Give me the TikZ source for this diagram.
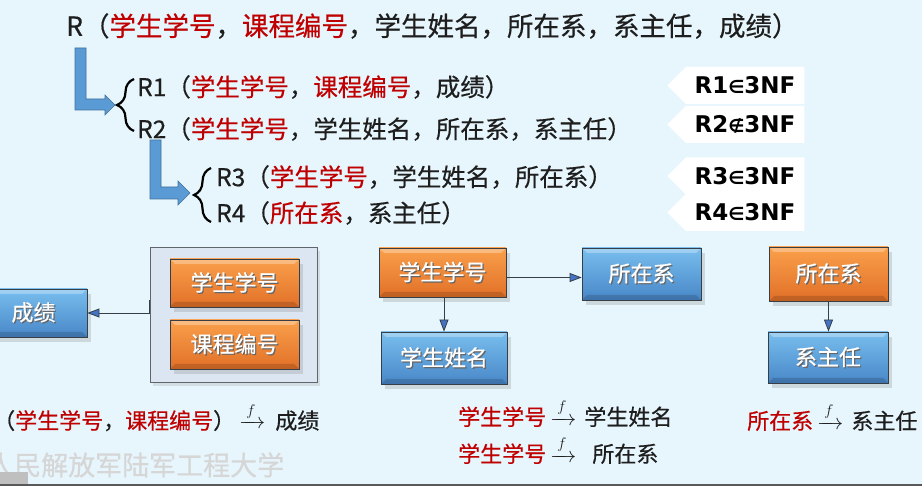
\RequirePackage{fix-cm}
\documentclass[tikz,border=0pt]{standalone}
\usepackage{amsmath}
\usepackage{fontspec}
\setmainfont{Noto Sans CJK SC}[FakeBold=0.5]
\newfontfamily\nffont{DejaVu Sans}
\usepackage{xcolor}
\usetikzlibrary{arrows.meta,positioning,calc,decorations.pathreplacing,shapes.symbols,shadows}

\definecolor{bgblue}{RGB}{231,246,253}
\definecolor{keyred}{RGB}{192,0,0}
\definecolor{textdark}{RGB}{30,30,30}
\definecolor{blueTop}{RGB}{120,190,238}
\definecolor{blueBot}{RGB}{72,135,200}
\definecolor{orangeTop}{RGB}{250,160,75}
\definecolor{orangeBot}{RGB}{225,112,40}
\definecolor{framegray}{RGB}{55,62,70}
\definecolor{keyboxfill}{RGB}{220,230,242}
\definecolor{tipblue}{RGB}{68,114,196}
\definecolor{bentblue}{RGB}{91,155,213}
\definecolor{bentedge}{RGB}{65,113,156}
\definecolor{wmgray}{RGB}{214,214,214}

\newcommand{\fsz}[1]{\fontsize{#1}{#1}\selectfont}
\newcommand{\kr}[1]{\textcolor{keyred}{#1}}
\newcommand{\wtext}[1]{\rlap{\hspace{1.2pt}\raisebox{-1.2pt}{\textcolor{black!60}{#1}}}\textcolor{white}{#1}}
\newcommand{\fto}{\ensuremath{\xrightarrow{\,f\,}}}

\begin{document}
\begin{tikzpicture}[x=1pt,y=-1pt,
  relation/.style={anchor=west,inner sep=0pt,text=textdark},
  nf/.style={signal,signal to=west,signal pointer angle=90,fill=white,
    minimum width=137pt,minimum height=37pt,inner sep=0pt,
    font=\nffont\bfseries\fsz{23},text=black},
  block/.style={draw=framegray,line width=0.8pt,inner sep=0pt,font=\fsz{22},
    drop shadow={shadow xshift=4pt,shadow yshift=-5pt,opacity=0.25},
    path picture={
      \fill[white,opacity=0.3] (path picture bounding box.north west)
        -- (path picture bounding box.north east)
        -- ([shift={(-5pt,-5pt)}]path picture bounding box.north east)
        -- ([shift={(5pt,-5pt)}]path picture bounding box.north west) -- cycle;
      \fill[black,opacity=0.15] (path picture bounding box.south west)
        -- (path picture bounding box.south east)
        -- ([shift={(-5pt,5pt)}]path picture bounding box.south east)
        -- ([shift={(5pt,5pt)}]path picture bounding box.south west) -- cycle;
    }},
  blue block/.style={block,top color=blueTop,bottom color=blueBot},
  orange block/.style={block,top color=orangeTop,bottom color=orangeBot},
  link/.style={draw=framegray,line width=0.8pt,-{Triangle[length=12pt,width=9pt,fill=tipblue]}},
  bent/.style={fill=bentblue,draw=bentedge,line width=0.6pt},
  brace/.style={decorate,decoration={brace,amplitude=17pt},line width=2.2pt}
]

\useasboundingbox (0,0) rectangle (922,486);
\fill[bgblue] (0,0) rectangle (922,486);

% decomposition
\node[relation,font=\fsz{26.5}] (R) at (66,26)
  {R（\kr{学生学号}，\kr{课程编号}，学生姓名，所在系，系主任，成绩）};

\node[relation,font=\fsz{24.5}] (R1) at (137,87) {R1（\kr{学生学号}，\kr{课程编号}，成绩）};
\node[relation,font=\fsz{24.5}] (R2) at (137,129) {R2（\kr{学生学号}，学生姓名，所在系，系主任）};
\node[relation,font=\fsz{24.5}] (R3) at (216,177) {R3（\kr{学生学号}，学生姓名，所在系）};
\node[relation,font=\fsz{24.5}] (R4) at (216,213) {R4（\kr{所在系}，系主任）};

\draw[bent] (75,48) -- (86,48) -- (86,99) -- (105,99) -- (105,95) -- (115,105)
  -- (105,115) -- (105,110) -- (75,110) -- cycle;
\draw[bent] (150,140) -- (161,140) -- (161,187) -- (178,187) -- (178,181) -- (190,193)
  -- (178,205) -- (178,199) -- (150,199) -- cycle;

\draw[brace] (134,131) -- (134,79);
\draw[brace] (211,222) -- (211,168);

\node[nf] (nf1) at (745,85.5) {R1{\fsz{18}∈}3NF};
\node[nf] (nf2) at (745,124.5) {R2{\fsz{18}∉}3NF};
\node[nf] (nf3) at (745,176) {R3{\fsz{18}∈}3NF};
\node[nf] (nf4) at (745,212.5) {R4{\fsz{18}∈}3NF};

% R1
\node[blue block,minimum width=107pt,minimum height=48pt] (grade) at (33.5,313) {\wtext{成绩}};
\node[draw=framegray!80,fill=keyboxfill,line width=0.8pt,minimum width=167pt,minimum height=135pt,
  drop shadow={shadow xshift=3pt,shadow yshift=-4pt,opacity=0.2}] (keybox) at (233.5,314.5) {};
\node[orange block,minimum width=129pt,minimum height=48pt] (sno) at (234.5,283) {\wtext{学生学号}};
\node[orange block,minimum width=129pt,minimum height=49pt] (cno) at (234.5,344.5) {\wtext{课程编号}};
\draw[link] ([yshift=14.5pt]keybox.west) |- (grade.east);

% R3
\node[orange block,minimum width=127pt,minimum height=49pt] (sno2) at (442.5,272.5) {\wtext{学生学号}};
\node[blue block,minimum width=119pt,minimum height=52pt] (dept) at (641.5,274) {\wtext{所在系}};
\node[blue block,minimum width=126pt,minimum height=52pt] (sname) at (444,358) {\wtext{学生姓名}};
\draw[link] ([yshift=-5pt]sno2.east) -- ([yshift=-5pt]sno2.east -| dept.west);
\draw[link] (sname.north |- sno2.south) -- (sname.north);

% R4
\node[orange block,minimum width=119pt,minimum height=54pt] (dept2) at (828.5,274) {\wtext{所在系}};
\node[blue block,minimum width=120pt,minimum height=51pt] (head) at (828,357.5) {\wtext{系主任}};
\draw[link] (dept2.south) -- (dept2.south |- head.north);

\node[relation,font=\fsz{22}] (fd1) at (-7,417) {（\kr{学生学号}，\kr{课程编号}）\hspace{4pt}\fto\hspace{10pt}成绩};
\node[relation,font=\fsz{22}] (fd2) at (458,413) {\kr{学生学号}\hspace{4pt}\fto\hspace{8pt}学生姓名};
\node[relation,font=\fsz{22}] (fd3) at (458,450) {\kr{学生学号}\hspace{4pt}\fto\hspace{16pt}所在系};
\node[relation,font=\fsz{22}] (fd4) at (747,417) {\kr{所在系}\hspace{4pt}\fto\hspace{8pt}系主任};

\node[anchor=west,inner sep=0pt,text=wmgray,font=\fsz{27}] (wm) at (-13,465) {人民解放军陆军工程大学};
\fill[black!25] (0,472) rectangle (28,484);
\fill[black!65] (0,484) rectangle (922,486);

\end{tikzpicture}
\end{document}
